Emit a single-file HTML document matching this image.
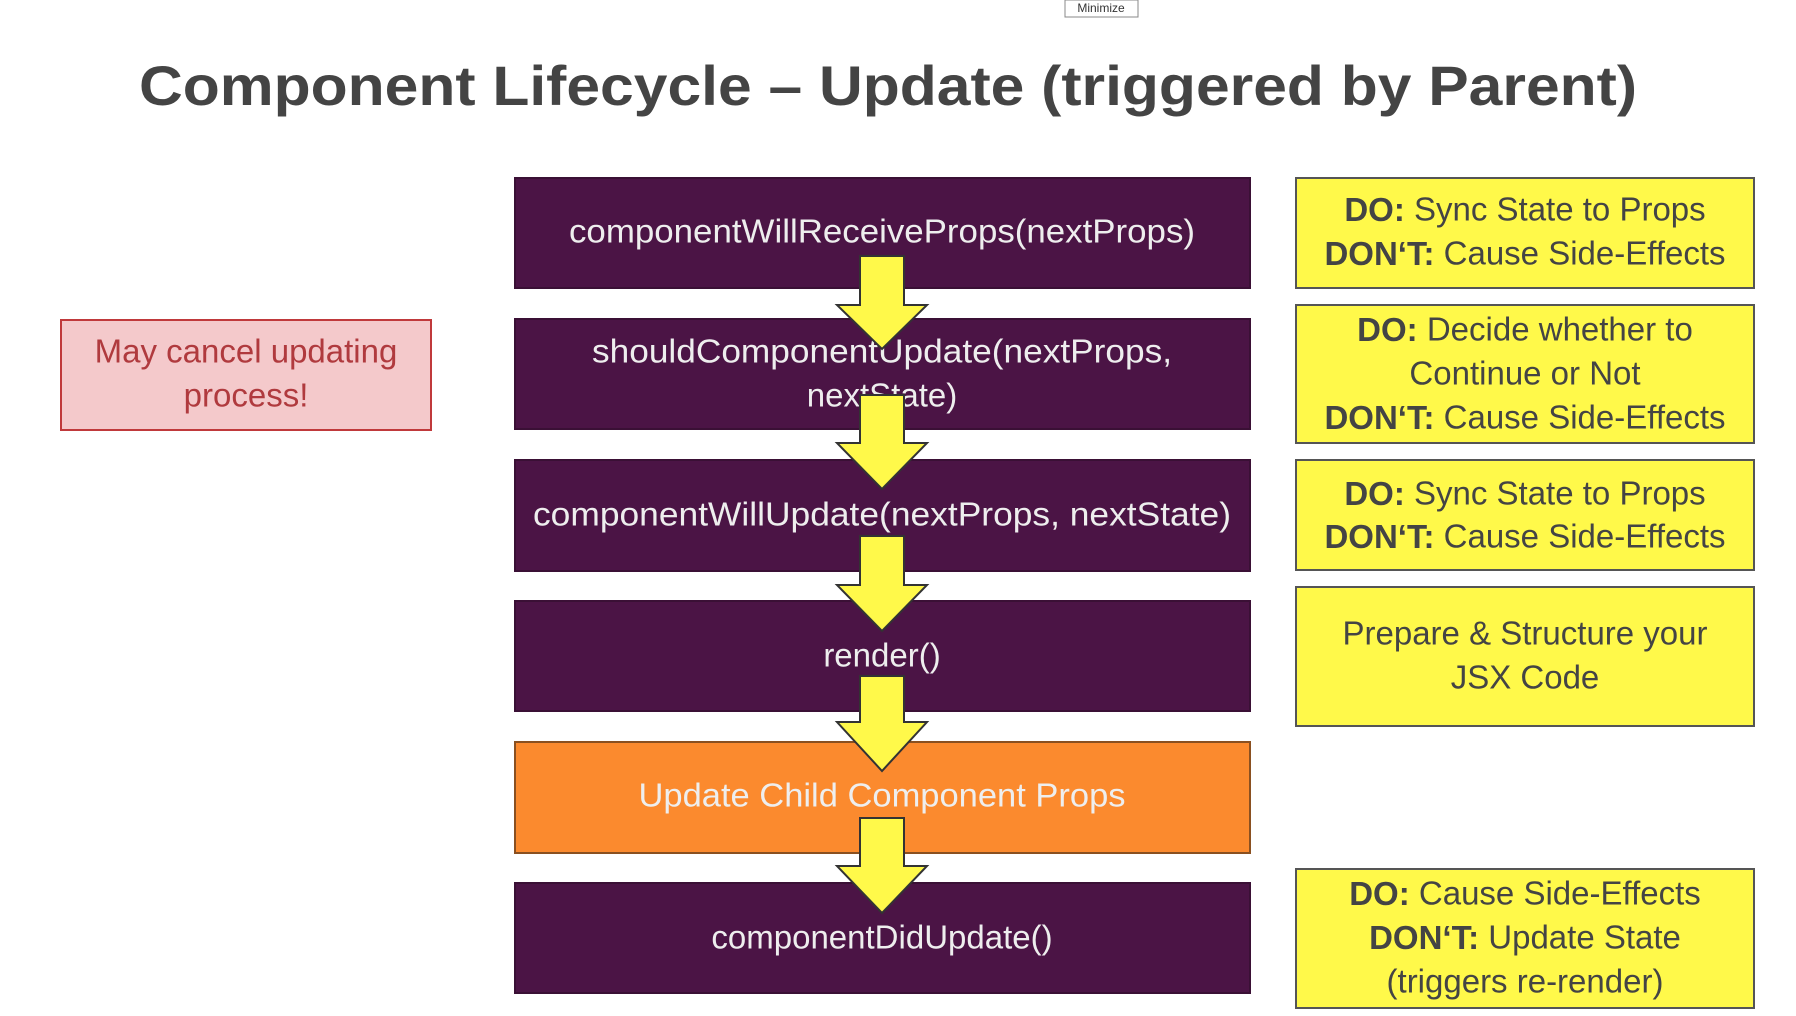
<!DOCTYPE html>
<html><head><meta charset="utf-8"><style>html,body{margin:0;padding:0;background:#fff;width:1796px;height:1016px;overflow:hidden}</style></head>
<body>
<svg width="1796" height="1016" xmlns="http://www.w3.org/2000/svg" font-family="Liberation Sans, sans-serif">
<rect x="1065" y="0" width="73" height="17" fill="#fff" stroke="#888"/>
<text x="1101" y="12" font-size="12" text-anchor="middle" fill="#333">Minimize</text>
<text x="888" y="105" font-size="56" font-weight="bold" fill="#444" text-anchor="middle" textLength="1498" lengthAdjust="spacingAndGlyphs">Component Lifecycle – Update (triggered by Parent)</text>
<g stroke="#3a1035" stroke-width="2" fill="#4b1445">
<rect x="515" y="178" width="735" height="110"/>
<rect x="515" y="319" width="735" height="110"/>
<rect x="515" y="460" width="735" height="111"/>
<rect x="515" y="601" width="735" height="110"/>
<rect x="515" y="883" width="735" height="110"/>
</g>
<rect x="515" y="742" width="735" height="111" fill="#fb8a2e" stroke="#8a5020" stroke-width="2"/>
<rect x="61" y="320" width="370" height="110" fill="#f4c9cb" stroke="#c0393b" stroke-width="2"/>
<g fill="#fff94a" stroke="#555" stroke-width="2">
<rect x="1296" y="178" width="458" height="110"/>
<rect x="1296" y="305" width="458" height="138"/>
<rect x="1296" y="460" width="458" height="110"/>
<rect x="1296" y="587" width="458" height="139"/>
<rect x="1296" y="869" width="458" height="139"/>
</g>
<g font-size="33" fill="#eee" text-anchor="middle" dominant-baseline="central">
<text x="882" y="231" textLength="626" lengthAdjust="spacingAndGlyphs">componentWillReceiveProps(nextProps)</text>
<text x="882" y="351" textLength="580" lengthAdjust="spacingAndGlyphs">shouldComponentUpdate(nextProps,</text>
<text x="882" y="395">nextState)</text>
<text x="882" y="514" textLength="698" lengthAdjust="spacingAndGlyphs">componentWillUpdate(nextProps, nextState)</text>
<text x="882" y="655">render()</text>
<text x="882" y="795" textLength="487" lengthAdjust="spacingAndGlyphs">Update Child Component Props</text>
<text x="882" y="937">componentDidUpdate()</text>
</g>
<g font-size="33" fill="#b03a3e" text-anchor="middle" dominant-baseline="central">
<text x="246" y="351">May cancel updating</text>
<text x="246" y="395">process!</text>
</g>
<g font-size="33" fill="#444" text-anchor="middle" dominant-baseline="central">
<text x="1525" y="209"><tspan font-weight="bold">DO:</tspan> Sync State to Props</text>
<text x="1525" y="253"><tspan font-weight="bold">DON‘T:</tspan> Cause Side-Effects</text>
<text x="1525" y="329"><tspan font-weight="bold">DO:</tspan> Decide whether to</text>
<text x="1525" y="373">Continue or Not</text>
<text x="1525" y="417"><tspan font-weight="bold">DON‘T:</tspan> Cause Side-Effects</text>
<text x="1525" y="493"><tspan font-weight="bold">DO:</tspan> Sync State to Props</text>
<text x="1525" y="536"><tspan font-weight="bold">DON‘T:</tspan> Cause Side-Effects</text>
<text x="1525" y="633">Prepare &amp; Structure your</text>
<text x="1525" y="677">JSX Code</text>
<text x="1525" y="893"><tspan font-weight="bold">DO:</tspan> Cause Side-Effects</text>
<text x="1525" y="937"><tspan font-weight="bold">DON‘T:</tspan> Update State</text>
<text x="1525" y="981">(triggers re-render)</text>
</g>
<g fill="#fff94a" stroke="#333" stroke-width="2">
<polygon points="860,256 904,256 904,305 927,305 882,349 837,305 860,305"/>
<polygon points="860,395 904,395 904,443 927,443 882,489 837,443 860,443"/>
<polygon points="860,536 904,536 904,585 927,585 882,631 837,585 860,585"/>
<polygon points="860,676 904,676 904,722 927,722 882,771 837,722 860,722"/>
<polygon points="860,818 904,818 904,866 927,866 882,913 837,866 860,866"/>
</g>
</svg>
</body></html>
